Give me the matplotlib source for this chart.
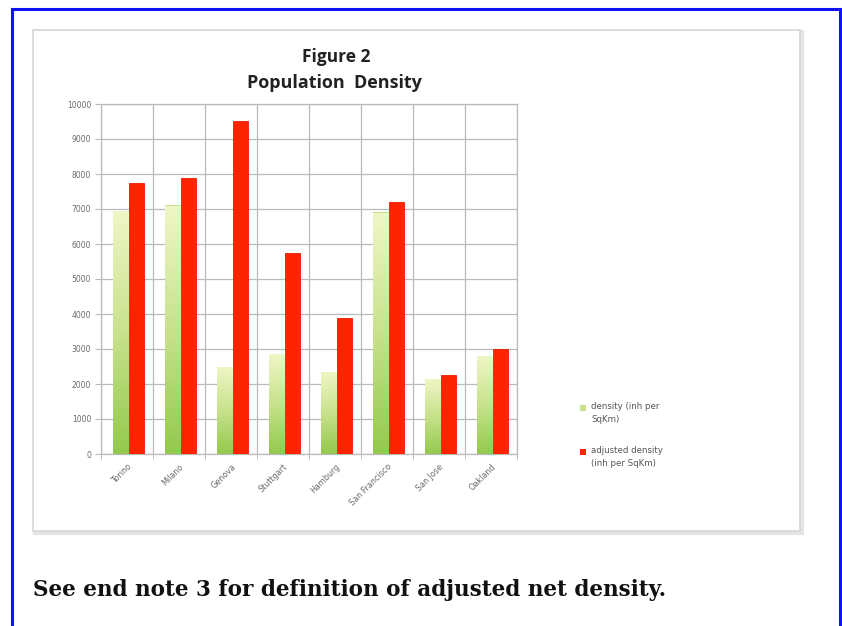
import numpy as np
import matplotlib
matplotlib.use("Agg")
import matplotlib.pyplot as plt
from matplotlib.patches import Rectangle
from matplotlib.lines import Line2D
from matplotlib.colors import LinearSegmentedColormap

# Population density by city (inhabitants per square km)
cities = ["Torino", "Milano", "Genova", "Stuttgart", "Hamburg",
          "San Francisco", "San Jose", "Oakland"]
density = [6950, 7100, 2500, 2850, 2350, 6900, 2150, 2800]
adjusted_density = [7750, 7900, 9500, 5750, 3900, 7200, 2250, 3000]
y_ticks = list(range(0, 10001, 1000))
series_labels = ["density (inh per\nSqKm)", "adjusted density\n(inh per SqKm)"]

W, H = 842, 626
fig = plt.figure(figsize=(W / 100, H / 100), dpi=100)
fig.patch.set_facecolor("white")


def fx(px):
    return px / W


def fy(py):
    return 1 - py / H


# page frame (blue) and chart box
frame_kw = dict(color="#1010ff", lw=2.2, transform=fig.transFigure)
fig.add_artist(Line2D([fx(12), fx(12)], [0, fy(9)], **frame_kw))
fig.add_artist(Line2D([fx(12), fx(840)], [fy(9), fy(9)], **frame_kw))
fig.add_artist(Line2D([fx(840), fx(840)], [fy(9), 0], **frame_kw))

shadow = Rectangle((fx(35), fy(533)), fx(802) - fx(35), fy(32) - fy(533),
                   transform=fig.transFigure, facecolor="none",
                   edgecolor="#e4e4e4", lw=3.0, zorder=-20)
box = Rectangle((fx(33), fy(531)), fx(800) - fx(33), fy(30) - fy(531),
                transform=fig.transFigure, facecolor="white",
                edgecolor="#d6d6d6", lw=1.2, zorder=-10)
fig.add_artist(shadow)
fig.add_artist(box)

ax = fig.add_axes([fx(101), fy(454), fx(517) - fx(101), fy(104) - fy(454)])
ax.set_facecolor("white")

n = len(cities)
x = np.arange(n)
bw = 0.29
green_colors = ["#93c94e", "#c8e28c", "#f0f6c6"]
red_color = "#ff2400"
green_cmap = LinearSegmentedColormap.from_list("g", green_colors)

g_bars = ax.bar(x - bw / 2 + 0.03, density, width=bw, color=green_colors[1],
                linewidth=0, zorder=3)
r_bars = ax.bar(x + bw / 2 + 0.03, adjusted_density, width=bw, color=red_color,
                edgecolor="#e81e00", linewidth=0.6, zorder=3)

grad = np.linspace(0, 1, 256).reshape(-1, 1)
for b in g_bars:
    x0, w, h = b.get_x(), b.get_width(), b.get_height()
    im = ax.imshow(grad, cmap=green_cmap, origin="lower", aspect="auto",
                   extent=(x0, x0 + w, 0, h), zorder=3.5, interpolation="bilinear")
    im.set_clip_path(b)

ax.set_xlim(-0.5, n - 0.5)
ax.set_ylim(0, 10000)
ax.set_yticks(y_ticks)
ax.set_yticklabels([str(v) for v in y_ticks])
ax.set_xticks(x)
ax.set_xticklabels(cities, rotation=45, ha="right", rotation_mode="anchor")
ax.set_xticks(np.arange(n + 1) - 0.5, minor=True)

grid_c = "#bababa"
ax.grid(axis="y", which="major", color=grid_c, lw=0.9, zorder=0)
ax.grid(axis="x", which="minor", color=grid_c, lw=0.9, zorder=0)
ax.tick_params(axis="x", which="major", length=0, labelsize=5.8,
               labelcolor="#6a6a6a", pad=6)
ax.tick_params(axis="x", which="minor", length=4, color=grid_c)
ax.tick_params(axis="y", length=4, color=grid_c, labelsize=5.5,
               labelcolor="#6a6a6a", pad=3)
for s in ax.spines.values():
    s.set_color(grid_c)
    s.set_linewidth(0.9)

# titles
fig.text(fx(336), fy(57), "Figure 2", ha="center", va="center",
         fontsize=12.5, fontweight="bold", family="Open Sans", color="#222222")
fig.text(fx(334), fy(83), "Population  Density", ha="center", va="center",
         fontsize=13, fontweight="bold", family="Open Sans", color="#222222")

# legend: swatch beside the first line of each wrapped label
legend_rows = [(408, green_colors[1]), (452, red_color)]
for (row_y, col), label in zip(legend_rows, series_labels):
    fig.add_artist(Rectangle((fx(580), fy(row_y + 3)), fx(6), 6 / H,
                             transform=fig.transFigure, facecolor=col,
                             edgecolor="none"))
    fig.text(fx(591), fy(row_y - 6), label, ha="left", va="top",
             fontsize=6.2, color="#555555", linespacing=1.55)

# note below chart
fig.text(fx(33), fy(590), "See end note 3 for definition of adjusted net density.",
         ha="left", va="center", fontsize=15.5, fontweight="bold",
         family="DejaVu Serif", color="#111111")

fig.savefig("out.png", dpi=100, facecolor="white")
